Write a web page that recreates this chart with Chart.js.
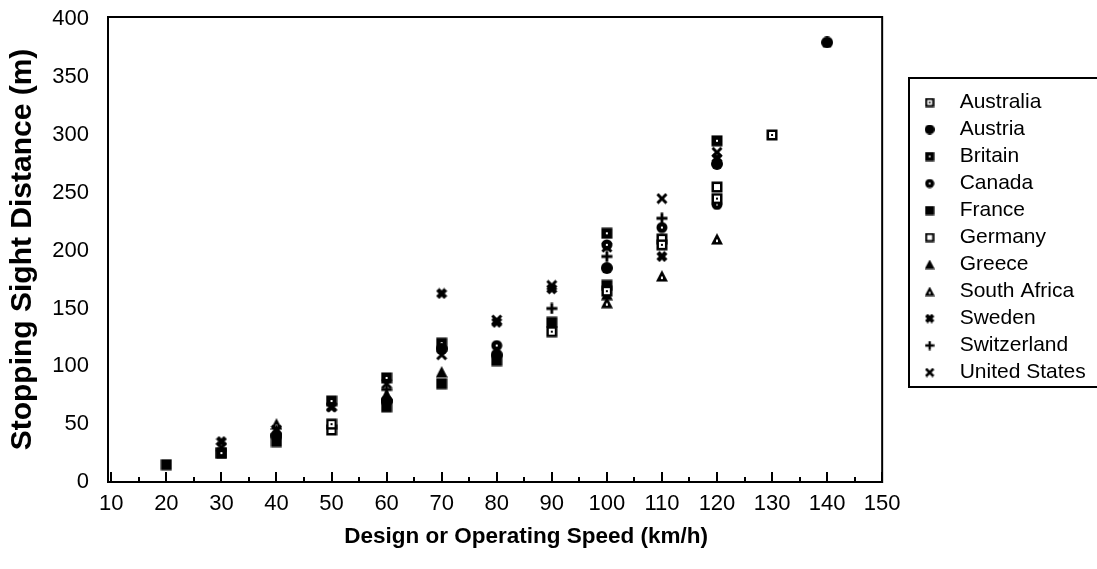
<!DOCTYPE html>
<html>
<head>
<meta charset="utf-8">
<script src="https://cdn.jsdelivr.net/npm/chart.js@4.4.0/dist/chart.umd.min.js"></script>
<style>
  html, body { margin: 0; padding: 0; background: #fff; }
  #wrap { width: 1097px; height: 569px; }
</style>
</head>
<body>
<div id="wrap"><canvas id="ssd-chart" width="1097" height="569"></canvas></div>
<script>
// design speeds (km/h) shared by every series; null = no value at that speed
const speeds = [20, 30, 40, 50, 60, 70, 80, 90, 100, 110, 120, 130, 140];

const countries = ['Australia', 'Austria', 'Britain', 'Canada', 'France', 'Germany',
                   'Greece', 'South Africa', 'Sweden', 'Switzerland', 'United States'];

// stopping sight distance (m)
const australia   = [null, null, null,   50, null, null, null,  130,  165,  205,  245,  300, null];
const austria     = [null, null,   40, null,   70,  115,  110, null,  185, null,  275, null,  380];
const britain     = [null,   25, null,   70,   90,  120, null, null,  215, null,  295, null, null];
const canada      = [null, null, null, null,   70, null,  118, null,  205,  220,  240, null, null];
const france      = [  15,   25,   35, null,   65,   85,  105,  138,  170, null, null, null, null];
const germany     = [null, null, null,   45, null, null, null, null, null,  210,  255, null, null];
const greece      = [null, null,   45, null,   75,   95, null, null,  162, null, null, null, null];
const southAfrica = [null, null,   50, null,   75, null, null, null,  155,  178,  210, null, null];
const sweden      = [null,   35, null,   65, null,  163,  138,  167, null,  195,  280, null, null];
const switzerland = [null, null, null, null,   80, null, null,  150,  195,  228, null, null, null];
const usa         = [null,   30,   45,   65,   85,  110,  140,  170,  203,  245,  285, null, null];

const series = [australia, austria, britain, canada, france, germany,
                greece, southAfrica, sweden, switzerland, usa];

const xTicks = [10, 20, 30, 40, 50, 60, 70, 80, 90, 100, 110, 120, 130, 140, 150];
const xMinorTicks = [15, 25, 35, 45, 55, 65, 75, 85, 95, 105, 115, 125, 135, 145];
const yTicks = [0, 50, 100, 150, 200, 250, 300, 350, 400];

const FONT = '"Liberation Sans", Arial, Helvetica, sans-serif';
Chart.defaults.font.family = FONT;
Chart.defaults.color = '#000';

// symbols drawn on a 12 unit grid, scaled to the wanted pixel size
function tri(g) { g.beginPath(); g.moveTo(6, 0); g.lineTo(12, 11.5); g.lineTo(0, 11.5); g.closePath(); g.fill(); }
const symbols = [
  g => { g.fillRect(0.5, 0.5, 11, 11); g.fillStyle = '#fff'; g.fillRect(3, 3, 6, 6); g.fillStyle = '#000'; g.fillRect(5, 5, 2, 2); },
  g => { g.beginPath(); g.arc(6, 6, 6, 0, Math.PI * 2); g.fill(); },
  g => { g.fillRect(0.5, 0.5, 11, 11); g.fillStyle = '#fff'; g.fillRect(5, 5, 2, 2); },
  g => { g.beginPath(); g.arc(6, 6, 5.5, 0, Math.PI * 2); g.fill(); g.fillStyle = '#fff'; g.fillRect(5, 5, 2, 2); },
  g => { g.fillRect(0.5, 0.5, 11, 11); },
  g => { g.fillRect(0.5, 0.5, 11, 11); g.fillStyle = '#fff'; g.fillRect(3, 3, 6, 6); },
  g => { tri(g); },
  g => { tri(g); g.fillStyle = '#fff'; g.fillRect(5, 6.5, 2, 2.5); },
  g => { g.lineWidth = 4.5; g.beginPath(); g.moveTo(2, 2); g.lineTo(10, 10); g.moveTo(10, 2); g.lineTo(2, 10); g.stroke(); },
  g => { g.lineWidth = 2.8; g.beginPath(); g.moveTo(6, 0.5); g.lineTo(6, 11.5); g.moveTo(0.5, 6); g.lineTo(11.5, 6); g.stroke(); },
  g => { g.lineWidth = 3; g.beginPath(); g.moveTo(1.5, 1.5); g.lineTo(10.5, 10.5); g.moveTo(10.5, 1.5); g.lineTo(1.5, 10.5); g.stroke(); }
];

function marker(draw, size) {
  const c = document.createElement('canvas');
  c.width = size; c.height = size;
  const g = c.getContext('2d');
  g.scale(size / 12, size / 12);
  g.fillStyle = '#000'; g.strokeStyle = '#000';
  draw(g);
  return c;
}
const markers = symbols.map(s => marker(s, 12));
const legendMarkers = symbols.map(s => marker(s, 10));

const datasets = countries.map((name, i) => ({
  label: name,
  data: speeds.map((s, j) => ({ x: s, y: series[i][j] })).filter(p => p.y !== null),
  pointStyle: markers[i],
  pointRadius: 5,
  showLine: false
}));

// frame, inward ticks, legend box and x title
const framePlugin = {
  id: 'frame',
  afterLayout(chart) {
    const lg = chart.legend;
    lg.top = 86;
    lg.left = chart.chartArea.right + 22;
  },
  afterDraw(chart) {
    const { ctx, chartArea: a } = chart;
    const x = chart.scales.x;
    ctx.save();
    ctx.strokeStyle = '#000';
    ctx.lineWidth = 2;
    ctx.strokeRect(a.left, a.top, a.right - a.left, a.bottom - a.top);

    ctx.beginPath();
    xTicks.forEach(v => { const px = Math.round(x.getPixelForValue(v)); ctx.moveTo(px, a.bottom); ctx.lineTo(px, a.bottom - 10); });
    xMinorTicks.forEach(v => { const px = Math.round(x.getPixelForValue(v)); ctx.moveTo(px, a.bottom); ctx.lineTo(px, a.bottom - 5); });
    ctx.stroke();

    const lg = chart.legend;
    ctx.strokeRect(Math.round(lg.left) + 5, lg.top - 8, 220, countries.length * 27 + 12);

    ctx.font = 'bold 22.5px ' + FONT;
    ctx.fillStyle = '#000';
    ctx.textAlign = 'center';
    ctx.textBaseline = 'middle';
    ctx.fillText('Design or Operating Speed (km/h)', (a.left + a.right) / 2 + 31, 537);
    ctx.restore();
  }
};

new Chart(document.getElementById('ssd-chart'), {
  type: 'scatter',
  data: { datasets },
  options: {
    responsive: false,
    animation: false,
    events: [],
    layout: { padding: { top: 17, left: 0, right: 0, bottom: 0 } },
    plugins: {
      tooltip: { enabled: false },
      legend: {
        position: 'right',
        align: 'start',
        labels: {
          usePointStyle: true,
          pointStyleWidth: 39,
          padding: 6,
          color: '#000',
          font: { size: 21 },
          generateLabels(chart) {
            return Chart.defaults.plugins.legend.labels.generateLabels(chart)
              .map(item => Object.assign(item, { pointStyle: legendMarkers[item.datasetIndex] }));
          }
        }
      }
    },
    scales: {
      x: {
        type: 'linear',
        min: 9.4, max: 150,
        grid: { display: false, drawTicks: false },
        border: { display: false },
        afterBuildTicks(s) { s.ticks = xTicks.map(v => ({ value: v })); },
        afterFit(s) { s.height = 87; },
        ticks: { padding: 9, maxRotation: 0, autoSkip: false, color: '#000', font: { size: 22 } }
      },
      y: {
        type: 'linear',
        min: 0, max: 402,
        grid: { display: false, drawTicks: false },
        border: { display: false },
        afterBuildTicks(s) { s.ticks = yTicks.map(v => ({ value: v })); },
        afterFit(s) { s.width = 108; s.paddingTop = 0; s.paddingBottom = 0; },
        ticks: { padding: 19, color: '#000', font: { size: 22 } },
        title: {
          display: true,
          text: 'Stopping Sight Distance (m)',
          color: '#000',
          font: { size: 30, weight: 'bold' },
          padding: { top: 5, bottom: 0 }
        }
      },
      y2: {
        type: 'linear',
        position: 'right',
        grid: { display: false, drawTicks: false },
        border: { display: false },
        ticks: { display: false },
        afterFit(s) { s.width = 32; }
      }
    }
  },
  plugins: [framePlugin]
});
</script>
</body>
</html>
